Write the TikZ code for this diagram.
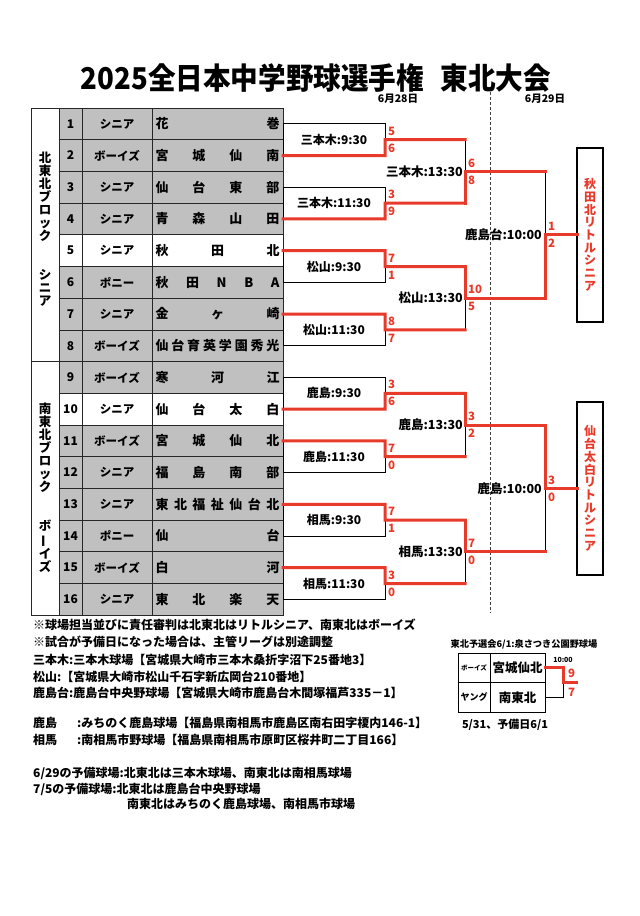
\documentclass[tikz,border=0pt]{standalone}
\usepackage{fontspec}
\usepackage{graphicx}
\setmainfont{Noto Sans CJK JP}
\definecolor{wred}{RGB}{232,58,42}
\definecolor{cellgray}{RGB}{192,192,192}
\begin{document}
\begin{tikzpicture}[x=1pt,y=-1pt,font=\bfseries,
  cellbox/.style={draw=black!85,line width=0.8pt,minimum height=31.7pt,inner sep=0pt,outer sep=0pt,anchor=north west},
  thinline/.style={draw=black,line width=0.8pt},
  winline/.style={draw=wred,line width=3pt,line join=miter,line cap=rect},
  score/.style={text=wred,font=\bfseries\fontsize{11.5}{11.5}\selectfont,inner sep=0pt,anchor=west},
  matchbox/.style={draw=black,line width=0.8pt,inner sep=0pt,outer sep=0pt,anchor=north west,minimum width=102pt,minimum height=31.7pt,font=\bfseries\fontsize{12}{12}\selectfont},
  rlabel/.style={anchor=east,inner sep=0pt,font=\bfseries\fontsize{12.5}{12.5}\selectfont},
  winbox/.style={draw=black,line width=2pt,minimum width=26pt,inner sep=0pt,outer sep=0pt,anchor=west,text=wred,align=center,font=\bfseries\fontsize{12}{12.7}\selectfont},
  blocktext/.style={align=center,inner sep=0pt,font=\bfseries\fontsize{12.5}{13}\selectfont},
  note/.style={anchor=west,inner sep=0pt,font=\bfseries\fontsize{12}{12}\selectfont}
]
\fill[white] (0,0) rectangle (640,916);
\useasboundingbox (0,0) rectangle (640,916);

% title and dates
\node (title) at (316,78) {\scalebox{0.92}[1]{\fontsize{30}{30}\selectfont 2025全日本中学野球選手権\hspace{18pt}東北大会}};
\node[font=\bfseries\fontsize{10.5}{10.5}\selectfont] (d1) at (398,99) {6月28日};
\node[font=\bfseries\fontsize{10.5}{10.5}\selectfont] (d2) at (545,99) {6月29日};
\coordinate (dtop) at (490,92);
\coordinate (dbot) at (490,613);
\draw[black!75,line width=0.7pt,dash pattern=on 3pt off 2pt] (dtop) -- (dbot);

% block column
\node[cellbox,fill=white,minimum width=28pt,minimum height=253.6pt] (blkN) at (31,108) {};
\node[cellbox,fill=white,minimum width=28pt,minimum height=253.6pt] (blkS) at (31,361.6) {};
\node[blocktext] (blkNt) at (45,229.5) {北\\東\\北\\ブ\\ロ\\ッ\\ク\\[26pt]シ\\ニ\\ア};
\node[blocktext] (blkSt) at (45,488) {南\\東\\北\\ブ\\ロ\\ッ\\ク\\[26pt]ボ\\\rotatebox[origin=c]{90}{ー}\\イ\\ズ};

% team rows
\foreach \i/\t/\n/\f in {
1/シニア/{花\hfill 巻}/cellgray,
2/ボーイズ/{宮\hfill 城\hfill 仙\hfill 南}/cellgray,
3/シニア/{仙\hfill 台\hfill 東\hfill 部}/cellgray,
4/シニア/{青\hfill 森\hfill 山\hfill 田}/cellgray,
5/シニア/{秋\hfill 田\hfill 北}/white,
6/ポニー/{秋\hfill 田\hfill N\hfill B\hfill A}/cellgray,
7/シニア/{金\hfill ヶ\hfill 崎}/cellgray,
8/ボーイズ/{仙\hfill 台\hfill 育\hfill 英\hfill 学\hfill 園\hfill 秀\hfill 光}/cellgray,
9/ボーイズ/{寒\hfill 河\hfill 江}/cellgray,
10/シニア/{仙\hfill 台\hfill 太\hfill 白}/white,
11/ボーイズ/{宮\hfill 城\hfill 仙\hfill 北}/cellgray,
12/シニア/{福\hfill 島\hfill 南\hfill 部}/cellgray,
13/シニア/{東\hfill 北\hfill 福\hfill 祉\hfill 仙\hfill 台\hfill 北}/cellgray,
14/ポニー/{仙\hfill 台}/cellgray,
15/ボーイズ/{白\hfill 河}/cellgray,
16/シニア/{東\hfill 北\hfill 楽\hfill 天}/cellgray}{
  \pgfmathsetmacro{\ty}{108+(\i-1)*31.7}
  \node[cellbox,fill=\f,minimum width=23pt,font=\bfseries\fontsize{12}{12}\selectfont] (n\i) at (59,\ty) {\i};
  \node[cellbox,fill=\f,minimum width=70pt,font=\bfseries\fontsize{11.5}{11.5}\selectfont] (t\i) at (82,\ty) {\t};
  \node[cellbox,fill=\f,minimum width=131pt,font=\bfseries\fontsize{13}{13}\selectfont] (m\i) at (152,\ty) {\hbox to 124pt{\n}};
}

% first round boxes
\foreach \k/\lab/\sa/\sb in {1/三本木:9:30/5/6, 2/三本木:11:30/3/9, 3/松山:9:30/7/1, 4/松山:11:30/8/7,
  5/鹿島:9:30/3/6, 6/鹿島:11:30/7/0, 7/相馬:9:30/7/1, 8/相馬:11:30/3/0}{
  \pgfmathsetmacro{\qy}{108+(2*\k-1.5)*31.7}
  \pgfmathsetmacro{\qm}{108+(2*\k-1)*31.7}
  \node[matchbox] (q\k) at (283,\qy) {\lab};
  \coordinate (u\k) at (465,\qm);
  \node[score] (sa\k) at (388,\qm-8.5) {\sa};
  \node[score] (sb\k) at (388,\qm+8.5) {\sb};
  \draw[thinline] (q\k.east) -- (u\k);
}

% second round
\coordinate (v1) at (465,171.4);
\coordinate (v2) at (465,298.2);
\coordinate (v3) at (465,425);
\coordinate (v4) at (465,551.8);
\coordinate (w1) at (545,171.4);
\coordinate (w2) at (545,298.2);
\coordinate (w3) at (545,425);
\coordinate (w4) at (545,551.8);
\coordinate (z1) at (545,234.8);
\coordinate (z2) at (545,488.4);
\draw[thinline] (u1) -- (u2);
\draw[thinline] (u3) -- (u4);
\draw[thinline] (u5) -- (u6);
\draw[thinline] (u7) -- (u8);
\draw[thinline] (v1) -- (w1);
\draw[thinline] (v2) -- (w2);
\draw[thinline] (v3) -- (w3);
\draw[thinline] (v4) -- (w4);
\draw[thinline] (w1) -- (w2);
\draw[thinline] (w3) -- (w4);

\node[rlabel] (L21) at (463,171.4) {三本木:13:30};
\node[rlabel] (L22) at (463,298.2) {松山:13:30};
\node[rlabel] (L23) at (463,425) {鹿島:13:30};
\node[rlabel] (L24) at (463,551.8) {相馬:13:30};
\node[rlabel] (L31) at (542,234.8) {鹿島台:10:00};
\node[rlabel] (L32) at (542,488.4) {鹿島:10:00};

\node[score] (s2a1) at (468,163) {6};
\node[score] (s2b1) at (468,180) {8};
\node[score] (s2a2) at (468,289.7) {10};
\node[score] (s2b2) at (468,306.7) {5};
\node[score] (s2a3) at (468,416.5) {3};
\node[score] (s2b3) at (468,433.5) {2};
\node[score] (s2a4) at (468,543.3) {7};
\node[score] (s2b4) at (468,560.3) {0};
\node[score] (s3a1) at (548,226.3) {1};
\node[score] (s3b1) at (548,243.3) {2};
\node[score] (s3a2) at (548,479.9) {3};
\node[score] (s3b2) at (548,496.9) {0};

% champions
\node[winbox,minimum height=174pt] (W1) at (577,234.8) {秋\\田\\北\\リ\\ト\\ル\\シ\\ニ\\ア};
\node[winbox,minimum height=173pt] (W2) at (577,488.4) {仙\\台\\太\\白\\リ\\ト\\ル\\シ\\ニ\\ア};
\draw[thinline] (z1) -- (W1.west);
\draw[thinline] (z2) -- (W2.west);

% winner paths
\draw[winline] (m2.east) -- (q1.south east) -- (q1.east) -- (u1);
\draw[winline] (m4.east) -- (q2.south east) -- (q2.east) -- (u2);
\draw[winline] (m5.east) -- (q3.north east) -- (q3.east) -- (u3);
\draw[winline] (m7.east) -- (q4.north east) -- (q4.east) -- (u4);
\draw[winline] (m10.east) -- (q5.south east) -- (q5.east) -- (u5);
\draw[winline] (m11.east) -- (q6.north east) -- (q6.east) -- (u6);
\draw[winline] (m13.east) -- (q7.north east) -- (q7.east) -- (u7);
\draw[winline] (m15.east) -- (q8.north east) -- (q8.east) -- (u8);
\draw[winline] (u2) -- (v1) -- (w1);
\draw[winline] (u3) -- (v2) -- (w2);
\draw[winline] (u5) -- (v3) -- (w3);
\draw[winline] (u7) -- (v4) -- (w4);
\draw[winline] (w2) -- (z1) -- (W1.west);
\draw[winline] (w3) -- (z2) -- (W2.west);

% notes
\node[note] (nt1) at (33,625) {※球場担当並びに責任審判は北東北はリトルシニア、南東北はボーイズ};
\node[note] (nt2) at (33,642) {※試合が予備日になった場合は、主管リーグは別途調整};
\node[note] (nt3) at (33,660) {三本木:三本木球場【宮城県大崎市三本木桑折字沼下25番地3】};
\node[note] (nt4) at (33,677) {松山:【宮城県大崎市松山千石字新広岡台210番地】};
\node[note] (nt5) at (33,693) {鹿島台:鹿島台中央野球場【宮城県大崎市鹿島台木間塚福芦335－1】};
\node[note] (nt6) at (33,723) {鹿島\hspace{20pt}:みちのく鹿島球場【福島県南相馬市鹿島区南右田字榎内146-1】};
\node[note] (nt7) at (33,740) {相馬\hspace{20pt}:南相馬市野球場【福島県南相馬市原町区桜井町二丁目166】};
\node[note] (nt8) at (33,773) {6/29の予備球場:北東北は三本木球場、南東北は南相馬球場};
\node[note] (nt9) at (33,789) {7/5の予備球場:北東北は鹿島台中央野球場};
\node[note] (nt10) at (127,804) {南東北はみちのく鹿島球場、南相馬市球場};

% qualifier box
\node[font=\bfseries\fontsize{9.2}{9.2}\selectfont] (qt) at (524,644) {東北予選会6/1:泉さつき公園野球場};
\node[cellbox,line width=1pt,draw=black,minimum width=32pt,minimum height=29.5pt,font=\bfseries\fontsize{6.5}{6.5}\selectfont] (sb1) at (458,653) {ボーイズ};
\node[cellbox,line width=1pt,draw=black,minimum width=55pt,minimum height=29.5pt,font=\bfseries\fontsize{12.5}{12.5}\selectfont] (sn1) at (490,653) {宮城仙北};
\node[cellbox,line width=1pt,draw=black,minimum width=32pt,minimum height=29.5pt,font=\bfseries\fontsize{9}{9}\selectfont] (sb2) at (458,682.5) {ヤング};
\node[cellbox,line width=1pt,draw=black,minimum width=55pt,minimum height=29.5pt,font=\bfseries\fontsize{12.5}{12.5}\selectfont] (sn2) at (490,682.5) {南東北};
\coordinate (sx1) at (563,667.75);
\coordinate (sx2) at (563,697.25);
\coordinate (smid) at (563,682.5);
\coordinate (sout) at (576,682.5);
\draw[thinline] (sn2.east) -- (sx2) -- (smid);
\draw[winline] (sn1.east) -- (sx1) -- (smid) -- (sout);
\node[font=\bfseries\fontsize{7}{7}\selectfont] (qtime) at (563,660) {10:00};
\node[score] (qs1) at (568,673.5) {9};
\node[score] (qs2) at (568,692) {7};
\node[font=\bfseries\fontsize{11}{11}\selectfont] (qnote) at (505,725) {5/31、予備日6/1};
\end{tikzpicture}
\end{document}
